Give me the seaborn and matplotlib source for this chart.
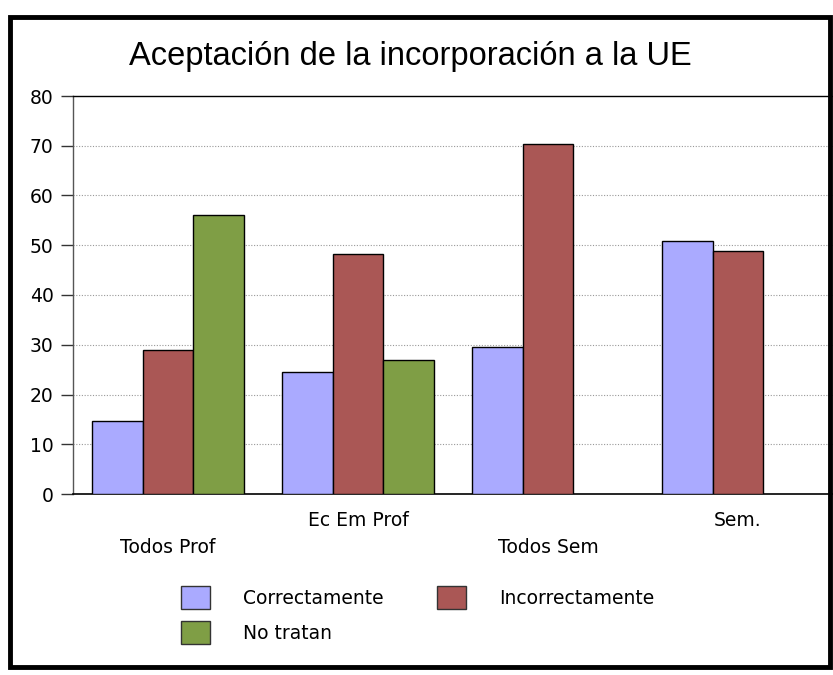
import numpy as np
import pandas as pd
import matplotlib
matplotlib.use("Agg")
from matplotlib import pyplot as plt
from matplotlib.patches import Patch, Rectangle
import seaborn as sns

# Data
categories = ['Todos Prof', 'Ec Em Prof', 'Todos Sem', 'Sem.']
series = ['Correctamente', 'Incorrectamente', 'No tratan']
correctamente = [14.7, 24.5, 29.5, 50.9]
incorrectamente = [28.9, 48.2, 70.3, 48.8]
no_tratan = [56.1, 26.9, np.nan, np.nan]
colors = ['#aaaaff', '#aa5755', '#7f9e45']
yticks = [0, 10, 20, 30, 40, 50, 60, 70, 80]
title = 'Aceptación de la incorporación a la UE'

df = pd.DataFrame({
    'cat': categories * 3,
    'serie': [series[0]] * 4 + [series[1]] * 4 + [series[2]] * 4,
    'val': correctamente + incorrectamente + no_tratan,
}).dropna()

sns.set_style('white')
plt.rcParams['font.family'] = ['DejaVu Sans']
plt.rcParams['text.color'] = 'black'
plt.rcParams['xtick.color'] = 'black'
plt.rcParams['ytick.color'] = 'black'

fig = plt.figure(figsize=(8.33, 6.75), dpi=100)
ax = fig.add_axes([73 / 833, 1 - 494 / 675, 760 / 833, 398 / 675])

sns.barplot(data=df, x='cat', y='val', hue='serie', order=categories,
            hue_order=series, palette=colors, width=0.8, saturation=1,
            edgecolor='black', linewidth=1, legend=False, ax=ax, zorder=3)

ax.set_xlim(-0.5, 3.5)
ax.set_ylim(0, 80)
ax.set_yticks(yticks)
ax.set_yticklabels([str(t) for t in yticks], fontsize=13.5)
ax.tick_params(axis='y', length=9, width=1, color='#333333', pad=5, left=True)
ax.tick_params(axis='x', length=0, pad=12)
ax.set_xlabel('')
ax.set_ylabel('')

# staggered category labels: even ones on a second row
labs = [('\n' + c) if i % 2 == 0 else c for i, c in enumerate(categories)]
ax.set_xticks(range(len(categories)))
ax.set_xticklabels(labs, fontsize=13.5, linespacing=1.55)

for y in yticks[1:-1]:
    ax.axhline(y, color='#999999', lw=0.8, ls=(0, (1, 1.5)), zorder=1)

ax.spines['left'].set_color('#555555')
ax.spines['left'].set_linewidth(1)
ax.spines['bottom'].set_color('black')
ax.spines['bottom'].set_linewidth(1.2)
ax.spines['top'].set_color('black')
ax.spines['top'].set_linewidth(1)
ax.spines['right'].set_visible(False)

fig.text(410 / 833, 1 - 56 / 675, title, fontsize=23.5, ha='center', va='center',
         family=['Liberation Sans', 'DejaVu Sans'])

# legend filled column-wise: Correctamente, No tratan | Incorrectamente
order = [0, 2, 1]
handles = [Patch(facecolor=colors[i], edgecolor='#333333', lw=1) for i in order]
labels = [series[i] for i in order]
fig.legend(handles, labels, loc='upper left', ncol=2,
           bbox_to_anchor=(181 / 833, 1 - 586 / 675), frameon=False,
           borderpad=0, borderaxespad=0, handlelength=1.55, handleheight=1.55,
           handletextpad=1.75, columnspacing=2.87, labelspacing=0.6,
           fontsize=13.5)

# outer frame
fig.patches.append(Rectangle((10 / 833, 1 - 667 / 675), 820 / 833, 650 / 675,
                             transform=fig.transFigure, fill=False,
                             edgecolor='black', lw=3.5, zorder=10))

fig.savefig('out.png', dpi=100)
